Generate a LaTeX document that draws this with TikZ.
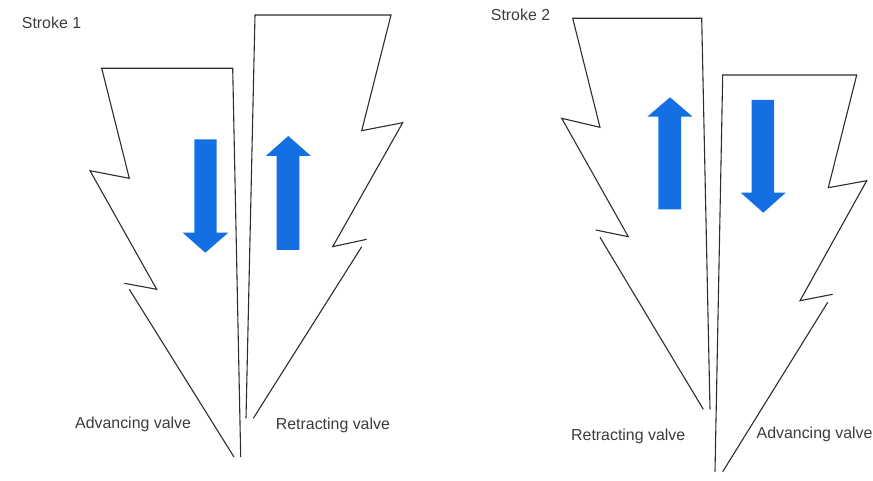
\documentclass[tikz,border=0pt]{standalone}
\usepackage{fontspec}
\setmainfont{Liberation Sans}
\definecolor{arrowblue}{RGB}{20,112,226}
\definecolor{linegray}{RGB}{45,45,45}
\definecolor{textgray}{RGB}{60,60,60}
\tikzset{
  valve/.style={draw=linegray, line width=1.1pt, line join=miter},
  bluearrow/.style={fill=arrowblue, draw=none},
  lbl/.style={text=textgray, font=\fontsize{15.9}{19}\selectfont, inner sep=0pt, anchor=west}
}
\begin{document}
\begin{tikzpicture}[x=1pt,y=-1pt]
\useasboundingbox (0,0) rectangle (873,481);
% ---------- Stroke 1 ----------
\node[lbl] (s1) at (21.7,22.7) {Stroke 1};
% advancing valve (left)
\draw[valve] (240.7,457) -- (232.7,68.3) -- (101.7,68.3) -- (129.3,178.3) -- (90,170.7) -- (156.7,289.3) -- (124.3,283.3);
\draw[valve] (129.3,289.3) -- (234,457);
% retracting valve (right)
\draw[valve] (246,418.3) -- (255,15) -- (391,15) -- (361.7,130.7) -- (402.7,122.7) -- (332.7,246.7) -- (366.7,239.3);
\draw[valve] (361.7,246.7) -- (253.3,418.3);
% arrows
\fill[bluearrow] (194.3,139.3) -- (216.7,139.3) -- (216.7,232.7) -- (228.3,232.7) -- (205.3,252.7) -- (182.7,232.7) -- (194.3,232.7) -- cycle;
\fill[bluearrow] (276.7,250) -- (299.3,250) -- (299.3,156) -- (311,156) -- (288.3,136) -- (265.7,156) -- (276.7,156) -- cycle;
\node[lbl] (a1) at (75,424) {Advancing valve};
\node[lbl] (r1) at (275.7,425) {Retracting valve};
% ---------- Stroke 2 ----------
\node[lbl] (s2) at (490.7,15) {Stroke 2};
% retracting valve (left)
\draw[valve] (710,409.3) -- (701.7,18.3) -- (572.7,18.3) -- (600,127.3) -- (561.7,118.3) -- (628.3,236.7) -- (595.7,230);
\draw[valve] (600,237.3) -- (703.3,409.3);
% advancing valve (right)
\draw[valve] (715,471.7) -- (722.7,75) -- (856.7,75) -- (828.3,187.7) -- (866.7,180.7) -- (800,300.7) -- (832.7,294.3);
\draw[valve] (827.7,302.3) -- (722.7,471.7);
% arrows
\fill[bluearrow] (658.3,209.3) -- (681,209.3) -- (681,116.7) -- (692.7,116.7) -- (670,97.3) -- (647.3,116.7) -- (658.3,116.7) -- cycle;
\fill[bluearrow] (751.7,100) -- (774,100) -- (774,192.7) -- (785.7,192.7) -- (763.3,212.7) -- (740.7,192.7) -- (751.7,192.7) -- cycle;
\node[lbl] (r2) at (571,436) {Retracting valve};
\node[lbl] (a2) at (756.5,434) {Advancing valve};
\end{tikzpicture}
\end{document}
